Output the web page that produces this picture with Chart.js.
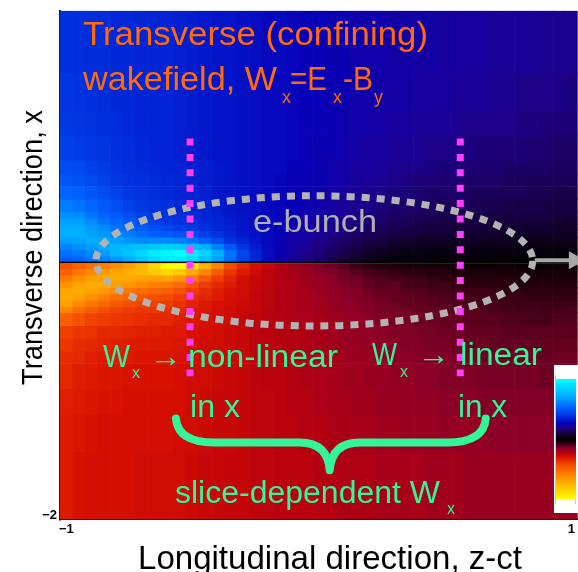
<!DOCTYPE html>
<html>
<head>
<meta charset="utf-8">
<script src="https://cdn.jsdelivr.net/npm/chart.js@4.4.1/dist/chart.umd.min.js"></script>
<style>
html, body { margin: 0; padding: 0; background: #ffffff; overflow: hidden; }
canvas { display: block; }
</style>
</head>
<body>
<canvas id="wake" width="578" height="572"></canvas>
<script>
// Longitudinal slice centres (z-ct), one heatmap column each
const zSlices = [-1.00, -0.95, -0.90, -0.85, -0.80, -0.75, -0.70, -0.65, -0.60, -0.55,
  -0.50, -0.45, -0.40, -0.35, -0.30, -0.25, -0.20, -0.15, -0.10, -0.05, 0.00,
  0.05, 0.10, 0.15, 0.20, 0.25, 0.30, 0.35, 0.40, 0.45, 0.50, 0.55, 0.60, 0.65,
  0.70, 0.75, 0.80, 0.85, 0.90, 0.95, 1.00];

// Transverse cell edges (x), from the top of the frame down to the bottom
const xEdges = [1.99, 1.5, 1.2, 1.0, 0.8, 0.7, 0.6, 0.5, 0.4, 0.35, 0.3, 0.25, 0.2, 0.15, 0.1, 0.05, 0,
  -0.05, -0.1, -0.15, -0.2, -0.25, -0.3, -0.35, -0.4, -0.5, -0.6, -0.7, -0.8, -1.0, -1.2, -1.5, -2.03];

// W_x per slice (percent of the colour-bar range), one value per transverse cell, top to bottom
const wxSlices = [
  [38,40,41,43,47,49,53,59,64,69,72,72,68,61,56,51, -45,-49,-56,-65,-70,-72,-69,-60,-49,-40,-38,-36,-35,-33,-32,-32],
  [38,39,40,42,46,48,52,57,63,68,71,72,69,64,59,53, -49,-55,-63,-70,-72,-69,-61,-53,-45,-38,-36,-35,-33,-32,-31,-30],
  [37,38,39,41,43,46,49,53,57,63,67,69,71,67,63,57, -53,-61,-69,-72,-70,-63,-55,-48,-41,-37,-35,-33,-32,-31,-30,-29],
  [37,37,38,40,41,43,47,50,53,57,63,67,71,71,67,61, -58,-67,-72,-72,-67,-58,-51,-44,-39,-35,-34,-32,-31,-30,-29,-29],
  [36,36,37,38,39,41,43,47,50,53,57,63,68,74,74,65, -63,-70,-72,-69,-61,-53,-47,-41,-38,-35,-33,-32,-31,-30,-29,-29],
  [36,36,36,37,38,39,41,43,47,50,53,59,65,76,79,71, -69,-74,-72,-65,-56,-49,-44,-39,-37,-34,-32,-32,-30,-29,-29,-29],
  [35,35,35,36,37,38,39,41,43,47,50,55,63,78,87,79, -77,-77,-70,-61,-53,-47,-41,-38,-36,-33,-32,-31,-30,-29,-29,-28],
  [35,35,35,35,36,37,38,39,41,43,47,52,63,81,93,87, -87,-82,-69,-58,-51,-44,-40,-38,-35,-33,-32,-31,-30,-29,-29,-28],
  [35,35,35,35,35,36,36,38,39,41,45,50,63,83,98,93, -100,-87,-70,-56,-49,-43,-39,-37,-35,-32,-32,-31,-30,-29,-29,-28],
  [34,34,34,34,35,35,35,36,37,39,42,48,60,81,100,93, -100,-82,-65,-52,-45,-39,-37,-35,-33,-32,-31,-30,-29,-29,-28,-28],
  [33,33,33,33,34,34,35,35,36,38,41,46,56,78,94,87, -92,-72,-56,-45,-39,-36,-34,-32,-31,-30,-29,-29,-28,-28,-28,-27],
  [32,32,32,32,33,33,34,35,35,36,38,42,51,71,85,78, -74,-60,-47,-39,-36,-34,-32,-31,-30,-29,-28,-28,-28,-27,-27,-26],
  [31,31,31,31,32,32,32,33,34,35,36,39,46,60,72,68, -60,-48,-39,-35,-33,-32,-30,-29,-29,-28,-28,-27,-27,-26,-26,-26],
  [31,31,31,31,31,31,31,31,32,33,34,35,39,49,57,55, -44,-38,-34,-32,-30,-29,-29,-28,-28,-27,-27,-26,-26,-26,-26,-25],
  [30,30,30,30,30,30,30,30,31,31,31,32,35,39,45,43, -35,-32,-29,-28,-28,-28,-27,-26,-26,-26,-26,-26,-25,-25,-25,-25],
  [29,29,29,29,29,29,29,29,29,29,29,30,31,33,35,35, -29,-28,-26,-26,-26,-25,-25,-25,-24,-24,-24,-24,-24,-24,-24,-24],
  [28,28,28,28,28,28,28,28,28,28,28,28,28,28,29,28, -25,-24,-24,-24,-24,-24,-24,-23,-23,-23,-23,-23,-23,-24,-24,-24],
  [28,28,28,28,28,27,27,27,26,26,26,26,25,25,25,24, -22,-22,-22,-22,-22,-22,-22,-22,-22,-22,-22,-23,-23,-23,-23,-23],
  [27,27,27,27,26,26,26,26,25,25,24,24,23,23,22,21, -19,-20,-20,-21,-21,-21,-21,-21,-21,-22,-22,-22,-22,-22,-23,-23],
  [26,26,26,26,26,25,25,25,24,24,23,23,22,21,19,18, -17,-18,-19,-19,-20,-20,-20,-20,-21,-21,-21,-21,-21,-22,-22,-23],
  [26,26,26,25,25,25,24,24,23,22,22,21,19,18,17,15, -15,-16,-17,-18,-18,-19,-19,-19,-20,-20,-20,-20,-21,-21,-22,-22],
  [25,25,25,25,24,24,23,23,22,21,20,19,17,16,14,12, -13,-15,-16,-16,-17,-17,-18,-18,-19,-19,-19,-20,-20,-20,-21,-22],
  [25,25,24,24,23,23,22,21,20,19,18,17,15,13,11,9, -11,-13,-14,-15,-16,-16,-17,-17,-18,-18,-18,-19,-19,-20,-20,-21],
  [24,24,24,23,22,22,21,20,19,17,16,15,13,11,9,6, -8,-11,-13,-14,-15,-15,-16,-16,-17,-17,-18,-18,-19,-19,-20,-21],
  [24,24,23,22,22,21,20,19,17,16,15,13,11,9,6,4, -6,-9,-11,-12,-13,-14,-15,-15,-16,-17,-17,-18,-18,-19,-20,-21],
  [24,23,23,22,21,20,19,17,16,15,13,12,10,7,5,3, -5,-8,-10,-11,-12,-13,-14,-14,-15,-16,-16,-17,-18,-18,-19,-20],
  [23,23,22,21,20,19,17,16,15,13,12,10,8,6,4,2, -5,-7,-9,-11,-12,-12,-13,-14,-14,-15,-16,-16,-17,-18,-19,-20],
  [23,23,22,21,19,18,17,15,14,13,11,10,7,5,3,2, -4,-6,-8,-9,-11,-12,-12,-13,-14,-15,-15,-16,-17,-17,-18,-20],
  [23,22,21,20,19,17,16,15,13,12,10,9,6,5,3,2, -4,-6,-8,-9,-10,-11,-12,-12,-13,-14,-15,-15,-16,-17,-18,-20],
  [23,22,21,19,18,17,15,14,13,11,10,8,6,4,3,2, -3,-5,-7,-8,-9,-11,-11,-12,-13,-14,-14,-15,-16,-17,-18,-19],
  [22,22,21,19,17,16,15,13,12,10,9,8,6,4,3,1, -3,-5,-6,-8,-9,-10,-11,-11,-12,-13,-14,-15,-15,-16,-17,-19],
  [22,21,20,19,17,16,15,13,12,10,9,7,6,4,3,1, -3,-4,-6,-7,-8,-9,-10,-11,-12,-13,-13,-14,-15,-16,-17,-19],
  [22,21,19,18,17,15,14,13,11,10,9,7,6,4,3,1, -2,-4,-5,-6,-8,-9,-9,-11,-11,-12,-13,-14,-15,-16,-17,-18],
  [22,21,19,17,16,15,13,12,11,10,8,7,5,4,3,1, -2,-4,-5,-6,-8,-8,-9,-10,-11,-12,-13,-13,-14,-15,-17,-18],
  [21,20,19,17,16,15,13,12,10,9,8,6,5,4,2,1, -2,-4,-5,-6,-7,-8,-9,-9,-11,-12,-12,-13,-14,-15,-16,-18],
  [21,20,19,17,15,14,13,11,10,9,8,6,5,4,2,1, -2,-3,-5,-6,-6,-8,-8,-9,-10,-11,-12,-13,-14,-15,-16,-18],
  [21,19,18,17,15,14,13,11,10,9,7,6,5,3,2,1, -2,-3,-4,-5,-6,-7,-8,-9,-10,-11,-12,-13,-14,-15,-16,-18],
  [21,19,18,16,15,13,12,11,10,8,7,6,4,3,2,1, -2,-3,-4,-5,-6,-7,-8,-9,-9,-11,-12,-13,-14,-15,-16,-18],
  [20,19,17,16,15,13,12,10,10,8,7,6,4,3,2,1, -2,-3,-4,-5,-6,-7,-8,-8,-9,-11,-12,-12,-13,-15,-16,-18],
  [20,19,17,15,14,13,11,10,9,8,6,6,4,3,2,1, -2,-3,-4,-5,-6,-7,-8,-9,-10,-11,-12,-13,-14,-15,-16,-18],
  [20,18,17,15,14,13,11,10,9,7,6,6,4,3,2,1, -2,-3,-4,-5,-6,-7,-8,-9,-10,-11,-12,-13,-14,-15,-16,-18]
];

// Axis ticks
const zTicks = [-1, 1];
const xTicks = [-2];
// Slices singled out by the dotted markers
const zSliceMarkers = [-0.51, 0.56];

// Diverging colour table: yellow-red-black-blue-cyan
const wxColorStops = [
  [-1.00, 255, 255, 0], [-0.74, 255, 176, 0], [-0.56, 255, 120, 0], [-0.40, 240, 64, 0],
  [-0.30, 216, 16, 0], [-0.22, 180, 0, 16], [-0.16, 140, 0, 40], [-0.10, 80, 0, 28],
  [-0.04, 26, 0, 8], [0.00, 0, 0, 0], [0.04, 12, 0, 24], [0.12, 26, 0, 80],
  [0.20, 28, 0, 144], [0.26, 8, 0, 184], [0.36, 0, 40, 216], [0.52, 0, 96, 255],
  [0.72, 0, 176, 255], [1.00, 0, 255, 255]
];

function wxColor(v) {
  v = Math.max(-1, Math.min(1, v));
  for (let i = 1; i < wxColorStops.length; i++) {
    const a = wxColorStops[i - 1], b = wxColorStops[i];
    if (v <= b[0]) {
      const t = (v - a[0]) / (b[0] - a[0]);
      const c = [1, 2, 3].map(k => Math.round(a[k] + (b[k] - a[k]) * t));
      return `rgb(${c[0]},${c[1]},${c[2]})`;
    }
  }
  return 'rgb(0,255,255)';
}

const FONT = '"Liberation Sans", Arial, Helvetica, sans-serif';
const minusSign = v => (v < 0 ? '\u2212' + Math.abs(v) : String(v));

// One floating-bar dataset per transverse cell row
const datasets = [];
for (let r = 0; r < xEdges.length - 1; r++) {
  datasets.push({
    data: zSlices.map(() => [xEdges[r + 1], xEdges[r]]),
    backgroundColor: wxSlices.map(s => wxColor(s[r] / 100)),
    borderWidth: 0
  });
}

function drawLabel(ctx, s, x, y, size, color, width) {
  ctx.font = size + 'px ' + FONT;
  ctx.fillStyle = color;
  ctx.textAlign = 'left';
  ctx.textBaseline = 'alphabetic';
  const k = width ? width / ctx.measureText(s).width : 1;
  ctx.save();
  ctx.translate(x, y);
  ctx.scale(k, 1);
  ctx.fillText(s, 0, 0);
  ctx.restore();
}

const overlay = {
  id: 'wakeOverlay',
  afterDraw(chart) {
    const ctx = chart.ctx, zs = chart.scales.zAxis, ys = chart.scales.y;
    const px = z => zs.getPixelForValue(z), py = x => ys.getPixelForValue(x);

    // electron bunch outline
    ctx.save();
    ctx.beginPath();
    ctx.ellipse(px(-0.018), py(0.012), px(0.865) - px(0), py(0) - py(0.515), 0, 0, Math.PI * 2);
    ctx.lineWidth = 7;
    ctx.strokeStyle = '#b3b3b3';
    ctx.setLineDash([8, 7]);
    ctx.stroke();
    ctx.restore();

    // direction of motion
    ctx.save();
    ctx.strokeStyle = '#a8a8a8';
    ctx.fillStyle = '#a8a8a8';
    ctx.lineWidth = 4;
    ctx.beginPath();
    ctx.moveTo(px(0.855), py(0.016));
    ctx.lineTo(px(0.995), py(0.016));
    ctx.stroke();
    ctx.beginPath();
    ctx.moveTo(px(0.99), py(0.016) - 9);
    ctx.lineTo(px(1.055), py(0.016));
    ctx.lineTo(px(0.99), py(0.016) + 9);
    ctx.closePath();
    ctx.fill();
    ctx.restore();

    // slice markers
    ctx.save();
    ctx.strokeStyle = '#ff3dff';
    ctx.lineWidth = 7;
    ctx.setLineDash([7, 8.4]);
    zSliceMarkers.forEach(z => {
      ctx.beginPath();
      ctx.moveTo(px(z), py(0.98));
      ctx.lineTo(px(z), py(-0.9));
      ctx.stroke();
    });
    ctx.restore();

    // headline
    const orange = '#ff6a0a';
    drawLabel(ctx, 'Transverse (confining)', 83, 45, 33, orange, 345);
    drawLabel(ctx, 'wakefield, W', 83, 90, 33, orange, 194);
    drawLabel(ctx, 'x', 282, 103, 18, orange);
    drawLabel(ctx, '=E', 290, 90, 33, orange, 37);
    drawLabel(ctx, 'x', 333, 103, 18, orange);
    drawLabel(ctx, '-B', 343, 90, 33, orange, 30);
    drawLabel(ctx, 'y', 374, 103, 18, orange);

    drawLabel(ctx, 'e-bunch', 253, 232, 32, '#b0b0b0', 124);

    const green = '#35f59a';
    drawLabel(ctx, 'W', 103, 367, 31, green, 27);
    drawLabel(ctx, 'x', 132, 378, 16, green);
    drawLabel(ctx, '\u2192', 150, 367, 31, green, 32);
    drawLabel(ctx, 'non-linear', 188, 367, 31, green, 150);
    drawLabel(ctx, 'in x', 190, 417, 31, green, 50);
    drawLabel(ctx, 'W', 372, 365, 31, green, 25);
    drawLabel(ctx, 'x', 400, 377, 16, green);
    drawLabel(ctx, '\u2192', 418, 365, 31, green, 32);
    drawLabel(ctx, 'linear', 460, 365, 31, green, 82);
    drawLabel(ctx, 'in x', 458, 417, 31, green, 49);
    drawLabel(ctx, 'slice-dependent W', 175, 503, 31, green, 265);
    drawLabel(ctx, 'x', 447, 514, 16, green);

    // brace grouping the two slices
    const L = px(-0.566), R = px(0.661), T = px(0.043);
    const yEnd = py(-1.235), yBar = py(-1.424), yTip = py(-1.644);
    ctx.save();
    ctx.strokeStyle = green;
    ctx.lineWidth = 8;
    ctx.lineCap = 'round';
    ctx.lineJoin = 'round';
    ctx.beginPath();
    ctx.moveTo(L, yEnd);
    ctx.quadraticCurveTo(L + 2, yBar, L + 38, yBar);
    ctx.lineTo(T - 30, yBar);
    ctx.quadraticCurveTo(T - 2, yBar, T, yTip);
    ctx.quadraticCurveTo(T + 2, yBar, T + 30, yBar);
    ctx.lineTo(R - 38, yBar);
    ctx.quadraticCurveTo(R - 2, yBar, R, yEnd);
    ctx.stroke();
    ctx.restore();

    // colour bar
    ctx.save();
    ctx.fillStyle = '#ffffff';
    ctx.fillRect(554, 365, 30, 148);
    for (let i = 0; i < 120; i++) {
      ctx.fillStyle = wxColor(1 - 2 * (i + 0.5) / 120);
      ctx.fillRect(556, 379 + i, 20, 1);
    }
    ctx.strokeStyle = '#c8c8c8';
    ctx.lineWidth = 1;
    ctx.beginPath();
    ctx.moveTo(555.5, 375); ctx.lineTo(555.5, 504);
    ctx.moveTo(575.5, 499); ctx.lineTo(575.5, 504);
    ctx.stroke();
    ctx.restore();

    // axis titles
    drawLabel(ctx, 'Longitudinal direction, z-ct', 138, 569, 33, '#000000', 384);
    ctx.save();
    ctx.translate(42, 385);
    ctx.rotate(-Math.PI / 2);
    drawLabel(ctx, 'Transverse direction, x', 0, 0, 29, '#000000', 275);
    ctx.restore();
  }
};

Chart.defaults.font.family = FONT;

new Chart(document.getElementById('wake'), {
  type: 'bar',
  data: { labels: zSlices, datasets },
  options: {
    responsive: false,
    animation: false,
    events: [],
    layout: { padding: { top: 8, right: 0, left: 0, bottom: 0 } },
    datasets: { bar: { barPercentage: 1, categoryPercentage: 1, grouped: false } },
    plugins: { legend: { display: false }, tooltip: { enabled: false } },
    scales: {
      x: { type: 'category', display: false, offset: true },
      zAxis: {
        type: 'linear', axis: 'x', position: 'bottom', offset: false, min: -1.025, max: 1.025,
        afterBuildTicks: s => { s.ticks = zTicks.map(v => ({ value: v })); },
        ticks: { callback: minusSign, color: '#000', font: { size: 13, weight: 'bold' }, padding: 3, maxRotation: 0, autoSkip: false },
        grid: { display: false, drawTicks: false, offset: false },
        border: { display: true, color: '#111', width: 2 },
        afterFit: s => { s.height = 53; }
      },
      y: {
        type: 'linear', min: -2.03, max: 1.99, z: 1,
        afterBuildTicks: s => { s.ticks = xTicks.concat([0]).map(v => ({ value: v })); },
        ticks: { callback: v => (xTicks.includes(v) ? minusSign(v) : ''), color: '#000', font: { size: 13, weight: 'bold' }, padding: 3 },
        grid: { display: true, drawTicks: false, lineWidth: 2.5, color: c => (c.tick && c.tick.value === 0 ? '#000' : 'rgba(0,0,0,0)') },
        border: { display: true, color: '#222', width: 2 },
        afterFit: s => { s.width = 60; }
      }
    }
  },
  plugins: [overlay]
});
</script>
</body>
</html>
